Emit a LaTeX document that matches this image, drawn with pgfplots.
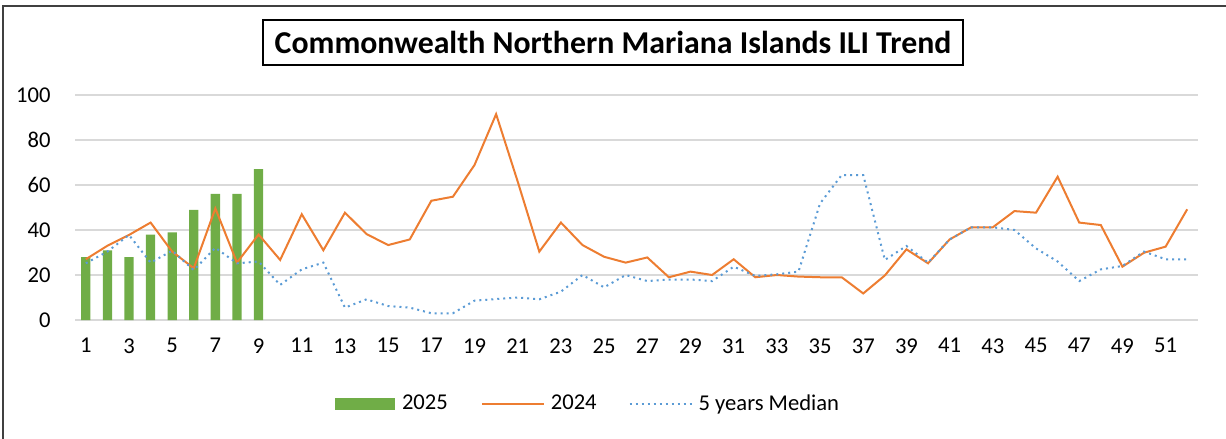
\documentclass[border=0pt]{standalone}
\usepackage{pgfplots}
\pgfplotsset{compat=1.18}
\usepackage{fontspec}
\setmainfont{Carlito}
\definecolor{cgreen}{HTML}{70AD47}
\definecolor{corange}{HTML}{ED7D31}
\definecolor{cblue}{HTML}{5B9BD5}
\definecolor{cgrid}{HTML}{D9D9D9}
\begin{document}
\begin{tikzpicture}
\useasboundingbox (0,0) rectangle (613pt,219.5pt);
\draw[black!75, line width=0.6pt] (1.5pt,0) -- (1.5pt,216.5pt) -- (613pt,216.5pt);
\node[draw=black, line width=0.7pt, minimum width=350pt, minimum height=22.5pt, inner sep=0pt,
  font=\bfseries\fontsize{15.9}{18}\selectfont] at (306.5pt,198.25pt) {Commonwealth Northern Mariana Islands ILI Trend};
\begin{axis}[
  at={(37.5pt,59.5pt)}, anchor=south west,
  scale only axis, width=561.5pt, height=112.5pt,
  xmin=0.5, xmax=52.5, ymin=0, ymax=100,
  xtick={1,3,...,51}, ytick={0,20,...,100},
  ymajorgrids, major grid style={cgrid, line width=0.7pt},
  axis line style={draw=none}, tick style={draw=none},
  /pgf/number format/assume math mode=true,
  tick label style={font=\fontsize{11.3}{13}\selectfont, inner sep=0pt},
  yticklabel shift=12pt,
  xticklabel shift=9pt,
  legend columns=3,
  legend style={at={(0.4586,-0.373)}, anchor=center, draw=none, fill=none,
    font=\fontsize{11.3}{13}\selectfont, column sep=0pt,
    /tikz/every even column/.append style={column sep=13pt}},
  legend cell align=left,
]
\addplot[ybar, bar width=0.43, fill=cgreen, draw=none,
  legend image code/.code={\fill[cgreen] (0pt,-3pt) rectangle (30pt,3pt);}]
  coordinates {(1,28) (2,31) (3,28) (4,38) (5,39) (6,49) (7,56) (8,56) (9,67)};
\addlegendentry[inner xsep=3.5pt]{2025}
\addplot[corange, line width=1pt, mark=none,
  legend image code/.code={\draw[corange, line width=1pt] (0pt,0pt) -- (31pt,0pt);}]
  coordinates {(1,27) (2,33) (3,37.8) (4,43.3) (5,30.4) (6,23) (7,49.6) (8,25.5) (9,38)
  (10,26.7) (11,47) (12,31) (13,47.7) (14,38.2) (15,33.3) (16,35.8) (17,53) (18,54.8)
  (19,68.9) (20,91.5) (21,61.5) (22,30.4) (23,43.3) (24,33.3) (25,28.1) (26,25.5)
  (27,27.8) (28,19) (29,21.5) (30,20) (31,27) (32,19) (33,20) (34,19.3) (35,19) (36,19)
  (37,11.8) (38,19.8) (39,31.4) (40,25.2) (41,35.8) (42,41.2) (43,41.2) (44,48.4)
  (45,47.7) (46,63.7) (47,43.3) (48,42.2) (49,23.7) (50,29.9) (51,32.6) (52,49.2)};
\addlegendentry[inner xsep=3pt]{2024}
\addplot[cblue, line width=1pt, dotted, mark=none,
  legend image code/.code={\draw[cblue, line width=1pt, dotted] (0pt,0pt) -- (31pt,0pt);}]
  coordinates {(1,25.2) (2,30.4) (3,37.8) (4,25.5) (5,30.8) (6,22.2) (7,32.1) (8,25.2) (9,26)
  (10,15.6) (11,22.5) (12,25.5) (13,5.5) (14,9.2) (15,6.2) (16,5.5) (17,3) (18,3)
  (19,8.6) (20,9.3) (21,10) (22,9.2) (23,12.6) (24,20) (25,14.5) (26,20) (27,17.3)
  (28,18) (29,18) (30,17.3) (31,23.7) (32,19.6) (33,20.3) (34,21.5) (35,51.8) (36,64.4)
  (37,64.4) (38,26.7) (39,32.9) (40,25.5) (41,35.8) (42,41.2) (43,41.2) (44,40)
  (45,31.8) (46,26) (47,17.3) (48,22.5) (49,24) (50,30.4) (51,27) (52,27)};
\addlegendentry[inner xsep=3pt]{5 years Median}
\end{axis}
\end{tikzpicture}
\end{document}
